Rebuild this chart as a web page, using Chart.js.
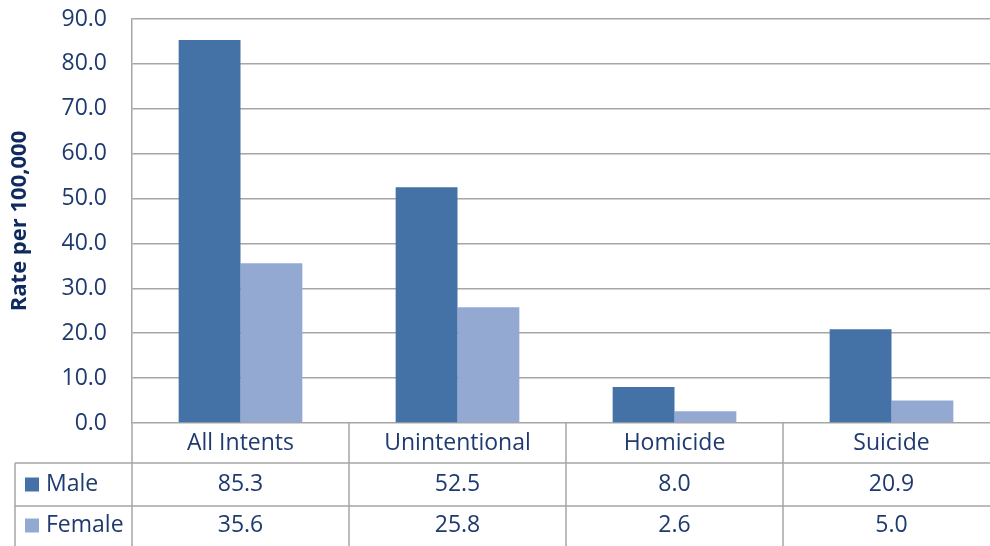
<!DOCTYPE html>
<html>
<head>
<meta charset="utf-8">
<script src="https://cdn.jsdelivr.net/npm/chart.js@4/dist/chart.umd.min.js"></script>
<style>
  html, body { margin: 0; padding: 0; background: #fff; overflow: hidden; }
  #wrap { width: 1002px; height: 546px; }
</style>
</head>
<body>
<div id="wrap"><canvas id="chart"></canvas></div>
<script>
const categories = ['All Intents', 'Unintentional', 'Homicide', 'Suicide'];
const maleRates = [85.3, 52.5, 8.0, 20.9];
const femaleRates = [35.6, 25.8, 2.6, 5.0];
const seriesNames = ['Male', 'Female'];
const seriesColors = ['#4472A7', '#94A9D1'];

const textColor = '#1F3A6E';
const lineColor = '#A6A6A6';
const fontFamily = '"Open Sans", sans-serif';

// draws the Excel-style data table under the plot
const dataTable = {
  id: 'dataTable',
  afterDraw(chart) {
    const ctx = chart.ctx;
    const x = chart.scales.x;
    const area = chart.chartArea;
    const rowTop = [area.bottom, 463, 506];
    const rowBottom = [463, 506, 549];
    const tableLeft = 15;
    const right = area.right;
    const bounds = [];
    for (let i = 0; i <= categories.length; i++) {
      bounds.push(area.left + (area.right - area.left) * i / categories.length);
    }

    ctx.save();
    ctx.strokeStyle = lineColor;
    ctx.lineWidth = 1.5;
    ctx.beginPath();
    // horizontal lines
    ctx.moveTo(tableLeft, rowTop[1]); ctx.lineTo(right, rowTop[1]);
    ctx.moveTo(tableLeft, rowTop[2]); ctx.lineTo(right, rowTop[2]);
    // vertical lines
    ctx.moveTo(tableLeft, rowTop[1]); ctx.lineTo(tableLeft, chart.height);
    bounds.forEach((b) => {
      ctx.moveTo(b, area.bottom); ctx.lineTo(b, chart.height);
    });
    ctx.stroke();

    ctx.fillStyle = textColor;
    ctx.font = '23px ' + fontFamily;
    ctx.textAlign = 'center';
    ctx.textBaseline = 'middle';
    categories.forEach((c, i) => {
      const cx = x.getPixelForValue(i);
      ctx.fillText(c, cx, (rowTop[0] + rowBottom[0]) / 2);
      ctx.fillText(maleRates[i].toFixed(1), cx, (rowTop[1] + rowBottom[1]) / 2);
      ctx.fillText(femaleRates[i].toFixed(1), cx, (rowTop[2] + rowBottom[2]) / 2 - 2);
    });

    // row headers with legend keys
    ctx.textAlign = 'left';
    seriesNames.forEach((name, i) => {
      const cy = i === 0 ? (rowTop[1] + rowBottom[1]) / 2 : (rowTop[2] + rowBottom[2]) / 2 - 2;
      ctx.fillStyle = seriesColors[i];
      ctx.fillRect(25, cy - 7, 14, 14);
      ctx.fillStyle = textColor;
      ctx.fillText(name, 46, cy);
    });
    ctx.restore();
  },
};

new Chart(document.getElementById('chart'), {
  type: 'bar',
  data: {
    labels: categories,
    datasets: [{
      label: seriesNames[0],
      data: maleRates,
      backgroundColor: seriesColors[0],
      borderWidth: 0,
    }, {
      label: seriesNames[1],
      data: femaleRates,
      backgroundColor: seriesColors[1],
      borderWidth: 0,
    }],
  },
  options: {
    responsive: true,
    maintainAspectRatio: false,
    animation: false,
    layout: { padding: { top: 19, right: 2, left: 0, bottom: 0 } },
    plugins: {
      legend: { display: false },
      tooltip: { enabled: false },
    },
    datasets: {
      bar: { barPercentage: 1.0, categoryPercentage: 0.57 },
    },
    scales: {
      x: {
        ticks: { display: false },
        grid: { display: false },
        border: { display: false },
        afterFit(scale) { scale.height = 123; },
      },
      y: {
        min: 0,
        max: 90,
        ticks: {
          stepSize: 10,
          padding: 25,
          color: textColor,
          font: { family: fontFamily, size: 23 },
          callback: (v) => Number(v).toFixed(1),
        },
        grid: { color: lineColor, lineWidth: 1.5, drawTicks: false },
        border: { display: true, color: lineColor, width: 1.5 },
        title: {
          display: true,
          text: 'Rate per 100,000',
          color: '#0E2A5E',
          font: { family: fontFamily, size: 22, weight: 'bold' },
          padding: { top: 7, bottom: 0 },
        },
        afterFit(scale) {
          scale.width = 132;
          scale.paddingTop = 0;
          scale.paddingBottom = 0;
        },
      },
    },
  },
  plugins: [dataTable],
});
</script>
</body>
</html>
